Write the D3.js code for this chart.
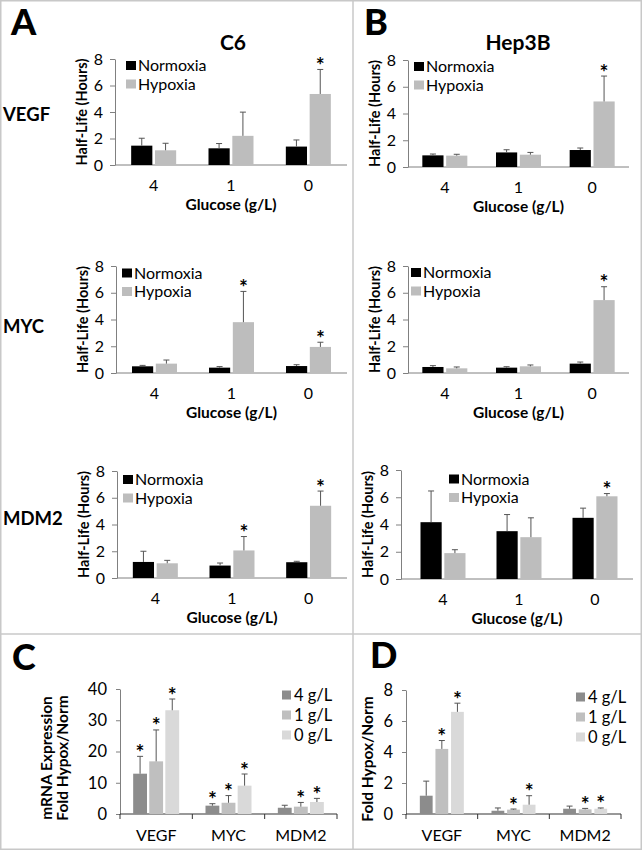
<!DOCTYPE html>
<html><head><meta charset="utf-8">
<script src="https://cdn.jsdelivr.net/npm/d3@7"></script>
<style>
body{margin:0;background:#fff}
svg{display:block}
text{font-family:Lato,'Noto Sans',sans-serif;fill:#000}
</style>
</head><body>
<svg id="fig" width="642" height="850"></svg>
<script>
// ---------- DATA ----------
const glucose = ["4", "1", "0"];
const conditions = ["Normoxia", "Hypoxia"];
const genes = ["VEGF", "MYC", "MDM2"];
const halfLifeTicks = [0, 2, 4, 6, 8];

// Panel A: C6 half-life (hours) [glucose 4,1,0]
const c6VegfNorm = [1.46, 1.26, 1.39];
const c6VegfNormErr = [0.56, 0.36, 0.50];
const c6VegfHyp = [1.11, 2.20, 5.36];
const c6VegfHypErr = [0.53, 1.79, 1.85];
const c6VegfSig = [false, false, true];

const c6MycNorm = [0.50, 0.40, 0.52];
const c6MycNormErr = [0.07, 0.08, 0.10];
const c6MycHyp = [0.70, 3.80, 1.95];
const c6MycHypErr = [0.27, 2.30, 0.35];
const c6MycSig = [false, true, true];

const c6Mdm2Norm = [1.20, 0.93, 1.18];
const c6Mdm2NormErr = [0.80, 0.19, 0.07];
const c6Mdm2Hyp = [1.10, 2.06, 5.40];
const c6Mdm2HypErr = [0.22, 1.04, 1.10];
const c6Mdm2Sig = [false, true, true];

// Panel B: Hep3B half-life (hours)
const hepVegfNorm = [0.87, 1.09, 1.27];
const hepVegfNormErr = [0.10, 0.20, 0.15];
const hepVegfHyp = [0.85, 0.92, 4.90];
const hepVegfHypErr = [0.10, 0.17, 1.90];
const hepVegfSig = [false, false, true];

const hepMycNorm = [0.45, 0.40, 0.70];
const hepMycNormErr = [0.10, 0.07, 0.12];
const hepMycHyp = [0.35, 0.50, 5.45];
const hepMycHypErr = [0.10, 0.10, 1.00];
const hepMycSig = [false, false, true];

const hepMdm2Norm = [4.17, 3.51, 4.49];
const hepMdm2NormErr = [2.29, 1.22, 0.71];
const hepMdm2Hyp = [1.90, 3.07, 6.07];
const hepMdm2HypErr = [0.25, 1.42, 0.20];
const hepMdm2Sig = [false, false, true];

// Panel C: C6 mRNA fold hypox/norm [VEGF, MYC, MDM2]
const glucoseLevels = ["4 g/L", "1 g/L", "0 g/L"];
const cTicks = [0, 10, 20, 30, 40];
const cFold4 = [12.9, 2.67, 2.0];
const cFold4Err = [5.55, 0.63, 0.8];
const cFold1 = [16.85, 3.6, 2.35];
const cFold1Err = [10.05, 2.3, 1.35];
const cFold0 = [33.2, 9.07, 3.84];
const cFold0Err = [3.6, 3.73, 1.16];
const cSig4 = [true, true, false];
const cSig1 = [true, true, true];
const cSig0 = [true, true, true];

// Panel D: Hep3B mRNA fold hypox/norm
const dTicks = [0, 2, 4, 6, 8];
const dFold4 = [1.18, 0.21, 0.34];
const dFold4Err = [0.94, 0.18, 0.17];
const dFold1 = [4.2, 0.28, 0.30];
const dFold1Err = [0.54, 0.04, 0.06];
const dFold0 = [6.59, 0.60, 0.34];
const dFold0Err = [0.56, 0.58, 0.05];
const dSig4 = [false, false, false];
const dSig1 = [true, true, true];
const dSig0 = [true, true, true];

// ---------- STYLE ----------
const condColors = ["#000000", "#bdbdbd"];
const levelColors = ["#8c8c8c", "#bfbfbf", "#d9d9d9"];
const axisColor = "#808080";
const errColor = "#555555";
const starFont = "'Open Sans','DejaVu Sans',sans-serif";

const svg = d3.select("#fig");

// frame
svg.append("rect").attr("x", 0.75).attr("y", 0.75).attr("width", 640.5).attr("height", 848.5)
  .attr("fill", "none").attr("stroke", "#c8c8c8").attr("stroke-width", 1.5);
svg.append("line").attr("x1", 353).attr("x2", 353).attr("y1", 0).attr("y2", 850)
  .attr("stroke", "#c8c8c8").attr("stroke-width", 1.5);
svg.append("line").attr("x1", 0).attr("x2", 642).attr("y1", 634).attr("y2", 634)
  .attr("stroke", "#c8c8c8").attr("stroke-width", 1.5);

function styleAxis(g) {
  g.selectAll("path.domain").attr("stroke", axisColor);
  g.selectAll(".tick line").attr("stroke", axisColor);
  g.selectAll(".tick text").attr("fill", "#000").attr("font-family", "Lato, 'Noto Sans', sans-serif");
}

function star(g, cx, top) {
  g.append("text").attr("x", cx).attr("y", top + 3.5).attr("text-anchor", "middle")
    .attr("font-family", starFont).attr("font-weight", "bold").attr("fill", "#000")
    .attr("font-size", 21).text("*");
}

function halfLifeChart(o) {
  const x = d3.scaleBand().domain(glucose).range([o.bx0, o.x1]);
  const y = d3.scaleLinear().domain([0, 8]).range([o.y0, o.y8]);
  const inner = d3.scaleBand().domain(conditions).range([0, 45]).paddingInner(0.111);
  const g = svg.append("g");

  const ya = g.append("g").attr("transform", `translate(${o.ax},0)`)
    .call(d3.axisLeft(y).tickValues(halfLifeTicks).tickSize(5).tickSizeOuter(0).tickPadding(7));
  ya.selectAll(".tick text").attr("font-size", 16);
  styleAxis(ya);
  g.append("line").attr("x1", o.ax).attr("x2", o.x1).attr("y1", o.y0).attr("y2", o.y0).attr("stroke", axisColor);
  const xa = g.append("g").attr("transform", `translate(0,${o.y0})`)
    .call(d3.axisBottom(x).tickSize(0).tickPadding(15));
  xa.select("path.domain").remove();
  xa.selectAll(".tick text").attr("font-size", 16);
  styleAxis(xa);

  const series = [
    {vals: o.norm, errs: o.normErr, sig: null},
    {vals: o.hyp, errs: o.hypErr, sig: o.sig}
  ];
  series.forEach((s, i) => {
    const cond = conditions[i];
    glucose.forEach((gl, j) => {
      const bx = x(gl) + x.bandwidth() / 2 - 22.5 + inner(cond);
      const bw = inner.bandwidth();
      const cx = bx + bw / 2;
      g.append("rect").attr("x", bx).attr("width", bw)
        .attr("y", y(s.vals[j])).attr("height", y(0) - y(s.vals[j]))
        .attr("fill", condColors[i]);
      const top = y(s.vals[j] + s.errs[j]);
      g.append("line").attr("x1", cx).attr("x2", cx).attr("y1", y(s.vals[j])).attr("y2", top)
        .attr("stroke", errColor).attr("stroke-width", 1);
      g.append("line").attr("x1", cx - 3).attr("x2", cx + 3).attr("y1", top).attr("y2", top)
        .attr("stroke", errColor).attr("stroke-width", 1);
      if (s.sig && s.sig[j]) star(g, cx, top);
    });
  });

  // legend
  conditions.forEach((c, i) => {
    const ly = o.ly + i * 18.5;
    g.append("rect").attr("x", o.lx).attr("y", ly - 4.5).attr("width", 10).attr("height", 9).attr("fill", condColors[i]);
    g.append("text").attr("x", o.lx + 12).attr("y", ly + 5.5).attr("font-size", 16).text(c);
  });

  // axis titles
  g.append("text").attr("transform", `translate(${o.ax - 28},${(o.y0 + o.y8) / 2}) rotate(-90)`)
    .attr("text-anchor", "middle").attr("font-size", 14.5).attr("font-weight", "bold").text("Half-Life (Hours)");
  g.append("text").attr("x", (o.ax + o.x1) / 2).attr("y", o.y0 + 45).attr("text-anchor", "middle")
    .attr("font-size", 15.5).attr("font-weight", "bold").text("Glucose (g/L)");
}

halfLifeChart({ax:115, bx0:115, x1:347, y0:165, y8:59, lx:126, ly:65.5,
  norm:c6VegfNorm, normErr:c6VegfNormErr, hyp:c6VegfHyp, hypErr:c6VegfHypErr, sig:c6VegfSig});
halfLifeChart({ax:116, bx0:116, x1:347, y0:373, y8:266, lx:122, ly:273,
  norm:c6MycNorm, normErr:c6MycNormErr, hyp:c6MycHyp, hypErr:c6MycHypErr, sig:c6MycSig});
halfLifeChart({ax:117, bx0:117, x1:347, y0:578, y8:471, lx:123, ly:479.5,
  norm:c6Mdm2Norm, normErr:c6Mdm2NormErr, hyp:c6Mdm2Hyp, hypErr:c6Mdm2HypErr, sig:c6Mdm2Sig});
halfLifeChart({ax:408, bx0:408, x1:629, y0:167, y8:60, lx:414, ly:66.5,
  norm:hepVegfNorm, normErr:hepVegfNormErr, hyp:hepVegfHyp, hypErr:hepVegfHypErr, sig:hepVegfSig});
halfLifeChart({ax:408, bx0:408, x1:629, y0:373, y8:266, lx:411, ly:272.5,
  norm:hepMycNorm, normErr:hepMycNormErr, hyp:hepMycHyp, hypErr:hepMycHypErr, sig:hepMycSig});
halfLifeChart({ax:401, bx0:405, x1:633, y0:579, y8:470, lx:449, ly:479,
  norm:hepMdm2Norm, normErr:hepMdm2NormErr, hyp:hepMdm2Hyp, hypErr:hepMdm2HypErr, sig:hepMdm2Sig});

// row labels & titles
const rowLabelY = [121, 333, 525];
genes.forEach((gn, i) => {
  svg.append("text").attr("x", 3).attr("y", rowLabelY[i]).attr("font-size", 18.5).attr("font-weight", "bold").text(gn);
});
svg.append("text").attr("x", 233).attr("y", 50).attr("text-anchor", "middle").attr("font-size", 21).attr("font-weight", "bold").text("C6");
svg.append("text").attr("x", 518).attr("y", 50).attr("text-anchor", "middle").attr("font-size", 21).attr("font-weight", "bold").text("Hep3B");

const panelLetters = [["A", 11, 35], ["B", 364, 35], ["C", 12, 670], ["D", 370, 668]];
panelLetters.forEach(p => {
  svg.append("text").attr("x", p[1]).attr("y", p[2]).attr("font-size", 36).attr("font-weight", 900).text(p[0]);
});

function foldChart(o) {
  const x = d3.scaleBand().domain(genes).range([o.ax, o.x1]);
  const y = d3.scaleLinear().domain([0, o.max]).range([o.y0, o.yTop]);
  const inner = d3.scaleBand().domain(glucoseLevels).range([0, o.gw]).paddingInner(o.pin);
  const g = svg.append("g");

  const ya = g.append("g").attr("transform", `translate(${o.ax},0)`)
    .call(d3.axisLeft(y).tickValues(o.ticks).tickSize(4).tickSizeOuter(0).tickPadding(9));
  ya.selectAll(".tick text").attr("font-size", 16.5);
  styleAxis(ya);
  const xa = g.append("g").attr("transform", `translate(0,${o.y0})`)
    .call(d3.axisBottom(x).tickSize(0).tickPadding(16));
  xa.select("path.domain").attr("d", `M${o.ax},0H${o.x1}`).attr("stroke", "#333");
  xa.selectAll(".tick text").attr("font-size", 16);
  xa.selectAll(".tick text").attr("fill", "#000");
  // category separator ticks
  const bounds = genes.map(gn => x(gn)).concat([o.x1]);
  g.selectAll("line.sep").data(bounds).enter().append("line")
    .attr("x1", d => d).attr("x2", d => d).attr("y1", o.y0).attr("y2", o.y0 + 5).attr("stroke", "#333");

  o.series.forEach((s, i) => {
    const lvl = glucoseLevels[i];
    genes.forEach((gn, j) => {
      const bx = x(gn) + x.bandwidth() / 2 - o.gw / 2 + inner(lvl);
      const bw = inner.bandwidth();
      const cx = bx + bw / 2;
      g.append("rect").attr("x", bx).attr("width", bw)
        .attr("y", y(s.vals[j])).attr("height", y(0) - y(s.vals[j])).attr("fill", levelColors[i]);
      const top = y(s.vals[j] + s.errs[j]);
      g.append("line").attr("x1", cx).attr("x2", cx).attr("y1", y(s.vals[j])).attr("y2", top)
        .attr("stroke", errColor).attr("stroke-width", 1);
      g.append("line").attr("x1", cx - 3).attr("x2", cx + 3).attr("y1", top).attr("y2", top)
        .attr("stroke", errColor).attr("stroke-width", 1);
      if (s.sig[j]) star(g, cx, top);
    });
  });

  glucoseLevels.forEach((lv, i) => {
    const ly = o.ly + i * 20;
    g.append("rect").attr("x", o.lx).attr("y", ly - 4.5).attr("width", 9).attr("height", 9).attr("fill", levelColors[i]);
    g.append("text").attr("x", o.lx + 12).attr("y", ly + 6).attr("font-size", 16.5).text(lv);
  });

  o.titles.forEach((t, k) => {
    g.append("text").attr("transform", `translate(${o.tx + k * 15.5},${o.ty}) rotate(-90)`)
      .attr("text-anchor", "middle").attr("font-size", 15.5).attr("font-weight", "bold").text(t);
  });
}

foldChart({ax:120, x1:337, y0:814, yTop:689, max:40, ticks:cTicks, gw:46, pin:0.14,
  lx:282, ly:695, tx:52, ty:758, titles:["mRNA Expression", "Fold Hypox/Norm"],
  series:[{vals:cFold4, errs:cFold4Err, sig:cSig4}, {vals:cFold1, errs:cFold1Err, sig:cSig1}, {vals:cFold0, errs:cFold0Err, sig:cSig0}]});
foldChart({ax:406, x1:621, y0:814, yTop:690, max:8, ticks:dTicks, gw:44, pin:0.18,
  lx:576, ly:697, tx:373, ty:759, titles:["Fold Hypox/Norm"],
  series:[{vals:dFold4, errs:dFold4Err, sig:dSig4}, {vals:dFold1, errs:dFold1Err, sig:dSig1}, {vals:dFold0, errs:dFold0Err, sig:dSig0}]});
</script>
</body></html>
